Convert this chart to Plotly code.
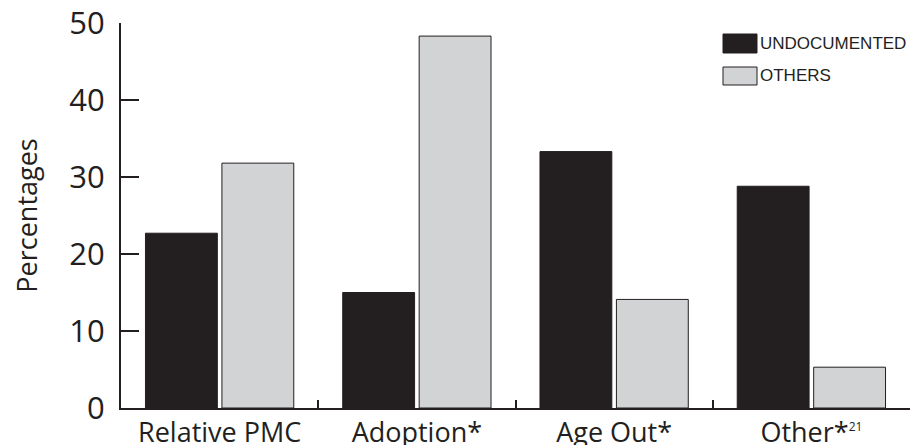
import plotly.graph_objects as go

categories = ["Relative PMC", "Adoption*", "Age Out*",
              "Other*<sup><span style=\"font-size:12px\">21</span></sup>"]
undocumented = [22.7, 15.0, 33.3, 28.8]
others = [31.8, 48.3, 14.1, 5.3]
series_names = ["UNDOCUMENTED", "OTHERS"]
y_ticks = [0, 10, 20, 30, 40, 50]

BLACK = "#231f20"
GRAY = "#d1d3d4"
FONT = "Open Sans"

# page has an 8px body margin; figure sized to fill the remaining window
OFF = 8
W, H = 924 - OFF, 445 - OFF
L, R, T, B = 121 - OFF, 14, 23 - OFF, 37
PW, PH = W - L - R, H - T - B

fig = go.Figure()
fig.add_trace(go.Bar(x=categories, y=undocumented, name=series_names[0],
                     marker=dict(color=BLACK, line=dict(color=BLACK, width=1))))
fig.add_trace(go.Bar(x=categories, y=others, name=series_names[1],
                     marker=dict(color=GRAY, line=dict(color=BLACK, width=1))))

fig.update_layout(
    width=W, height=H,
    margin=dict(l=L, r=R, t=T, b=B),
    paper_bgcolor="white", plot_bgcolor="white",
    barmode="group", bargap=0.225, bargroupgap=0.06,
    showlegend=False,
    font=dict(family=FONT, color=BLACK),
)
fig.update_xaxes(
    type="category", range=[-0.5, 3.5], automargin=False,
    showline=True, linecolor=BLACK, linewidth=2,
    ticks="inside", tickson="boundaries", ticklen=8, tickwidth=2, tickcolor=BLACK,
    tickfont=dict(family=FONT, size=27, color=BLACK),
    ticklabeloverflow="allow",
    showgrid=False, zeroline=False,
)
fig.update_yaxes(
    range=[0, 50], tickvals=y_ticks, automargin=False,
    showline=True, linecolor=BLACK, linewidth=2,
    ticks="inside", ticklen=18, tickwidth=2, tickcolor=BLACK,
    tickfont=dict(family=FONT, size=31, color=BLACK),
    ticklabelstandoff=8, ticklabeloverflow="allow",
    showgrid=False, zeroline=False,
    title=dict(text="Percentages", font=dict(family=FONT, size=27, color=BLACK), standoff=36),
)

# Legend drawn manually (page pixel positions)
leg = [(series_names[0], BLACK, 34, 53), (series_names[1], GRAY, 67, 85)]
for name, col, ytop, ybot in leg:
    fig.add_shape(type="rect", xref="paper", yref="paper",
                  x0=(723 - 121) / PW, x1=(757 - 121) / PW,
                  y0=1 - (ybot - 23) / PH, y1=1 - (ytop - 23) / PH,
                  fillcolor=col, line=dict(color=BLACK, width=1))
    fig.add_annotation(xref="paper", yref="paper", x=(758 - 121) / PW,
                       y=1 - ((ytop + ybot) / 2 - 23) / PH,
                       text=name, showarrow=False, xanchor="left", yanchor="middle",
                       font=dict(family="Liberation Sans", size=17, color=BLACK))

fig.write_html("out.html")
